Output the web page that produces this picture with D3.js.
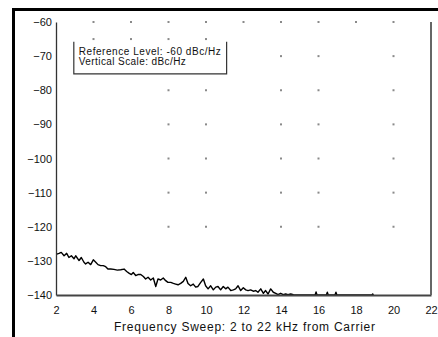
<!DOCTYPE html>
<html>
<head>
<meta charset="utf-8">
<script src="https://cdn.jsdelivr.net/npm/d3@7"></script>
<style>
  body { margin: 0; background: #fff; }
  svg { display: block; font-family: "Liberation Sans", Arial, sans-serif; }
  .axis text { font-size: 11px; fill: #111; }
</style>
</head>
<body>
<svg id="chart"></svg>
<script>
// x ticks (kHz from carrier) and y ticks (dBc/Hz)
const freqTicks = [2, 4, 6, 8, 10, 12, 14, 16, 18, 20, 22];
const levelTicks = [-60, -70, -80, -90, -100, -110, -120, -130, -140];

// phase noise trace: [kHz, dBc/Hz]
const traceFreq = [2.04, 2.16, 2.28, 2.43, 2.57, 2.69, 2.82, 2.96, 3.05, 3.23, 3.35, 3.49, 3.58, 3.71, 3.85,
  3.99, 4.12, 4.24, 4.38, 4.52, 4.65, 4.77, 4.92, 5.09, 5.27, 5.45, 5.63, 5.77, 5.89, 6.02, 6.12, 6.25,
  6.37, 6.52, 6.66, 6.78, 6.91, 7.05, 7.19, 7.32, 7.44, 7.58, 7.72, 7.85, 7.97, 8.12, 8.26, 8.38, 8.51,
  8.65, 8.79, 8.92, 9.04, 9.18, 9.32, 9.45, 9.57, 9.72, 9.86, 9.98, 10.11, 10.25, 10.39, 10.52, 10.64,
  10.78, 10.92, 11.05, 11.17, 11.32, 11.46, 11.58, 11.71, 11.85, 11.99, 12.12, 12.24, 12.38, 12.52,
  12.65, 12.77, 12.92, 13.06, 13.18, 13.31, 13.45, 13.59, 13.72, 13.84, 13.98, 14.12, 14.25, 14.37,
  14.52, 14.66, 14.8, 15.82, 15.87, 15.92, 16.42, 16.47, 16.52, 16.88, 16.93, 16.98, 18.85, 18.89, 18.93];
const traceLevel = [-128.0, -127.8, -127.5, -128.5, -127.8, -129.0, -128.5, -129.4, -128.5, -129.9, -129.0,
  -130.4, -130.9, -130.4, -131.1, -129.7, -130.4, -131.1, -131.4, -131.4, -131.7, -132.4, -132.4, -132.5,
  -132.7, -132.6, -132.4, -133.1, -133.6, -134.0, -133.4, -134.3, -134.0, -134.0, -134.6, -135.3, -134.8,
  -135.6, -135.0, -137.5, -135.3, -135.6, -135.0, -135.8, -136.3, -136.3, -136.6, -136.8, -137.0, -136.6,
  -136.0, -134.8, -136.6, -137.3, -136.8, -137.7, -137.5, -136.3, -135.3, -137.3, -138.2, -137.3, -138.5,
  -137.7, -137.5, -138.5, -137.5, -138.2, -137.7, -138.7, -138.5, -138.2, -137.3, -138.7, -137.9, -138.5,
  -138.7, -138.5, -138.9, -138.7, -139.2, -138.2, -139.5, -138.7, -139.7, -138.2, -139.2, -139.5, -139.9,
  -139.5, -139.9, -139.7, -139.9, -139.7, -139.9, -140, -140, -139.1, -140, -140, -139.2, -140, -140,
  -139.2, -140, -140, -139.7, -140];

// dotted grid, some dots missing as in the original
const dotRows = [
  { level: -60, cols: [4, 6, 8, 10, 12, 14, 16, 18, 20] },
  { level: -65, cols: [4, 6, 8, 10] },
  { level: -70, cols: [14, 16, 20] },
  { level: -80, cols: [8, 10, 14, 16, 20] },
  { level: -90, cols: [8, 10, 14, 16, 20] },
  { level: -100, cols: [8, 10, 14, 16, 20] },
  { level: -110, cols: [8, 10, 14, 16, 20] },
  { level: -120, cols: [8, 10, 14, 16, 20] }
];

const legendLines = ['Reference Level: -60 dBc/Hz', 'Vertical Scale: dBc/Hz'];
const legendWidths = [142, 107];
const xTitle = 'Frequency Sweep: 2 to 22 kHz from Carrier';

const width = 438, height = 337;
const margin = { top: 22, right: 7, bottom: 42, left: 56 };
const innerW = width - margin.left - margin.right;
const innerH = height - margin.top - margin.bottom;

const svg = d3.select('#chart').attr('width', width).attr('height', height);

// scanned page frame
svg.append('rect').attr('x', 12).attr('y', 8).attr('width', width - 12).attr('height', 3).attr('fill', '#000');
svg.append('rect').attr('x', 12).attr('y', 8).attr('width', 3).attr('height', height - 8).attr('fill', '#000');

const chart = svg.append('g').attr('transform', `translate(${margin.left},${margin.top})`);

const x = d3.scaleLinear().domain([2, 22]).range([0, innerW]);
const y = d3.scaleLinear().domain([-140, -60]).range([innerH, 0]);

// grid dots
const dots = dotRows.flatMap(r => r.cols.map(c => ({ f: c, v: r.level })));
chart.selectAll('.dot')
  .data(dots)
  .join('rect')
  .attr('class', 'dot')
  .attr('x', d => x(d.f) - 1)
  .attr('y', d => y(d.v) - 1)
  .attr('width', 2)
  .attr('height', 2)
  .attr('fill', '#8a8a8a');

// trace
const trace = traceFreq.map((f, i) => ({ f: f, v: traceLevel[i] }));
const line = d3.line().x(d => x(d.f)).y(d => y(d.v));
chart.append('path')
  .datum(trace)
  .attr('fill', 'none')
  .attr('stroke', '#000')
  .attr('stroke-width', 1.4)
  .attr('stroke-linejoin', 'round')
  .attr('d', line);

// axes (drawn over the trace so the floor of the trace hides under the axis)
const yAxis = d3.axisLeft(y).tickValues(levelTicks).tickSize(0).tickSizeOuter(0).tickPadding(4);
const xAxis = d3.axisBottom(x).tickValues(freqTicks).tickSize(0).tickSizeOuter(0).tickPadding(11);

const yAxisG = chart.append('g').attr('class', 'axis y-axis').call(yAxis);
yAxisG.select('.domain').attr('stroke', '#333').attr('stroke-width', 1.3);

const xAxisG = chart.append('g').attr('class', 'axis x-axis')
  .attr('transform', `translate(0,${innerH})`)
  .call(xAxis);
xAxisG.select('.domain').attr('stroke', '#444').attr('stroke-width', 1.8);
xAxisG.selectAll('text').attr('font-size', 12);

// right border of plot
chart.append('line')
  .attr('x1', x(22)).attr('x2', x(22))
  .attr('y1', 0).attr('y2', innerH)
  .attr('stroke', '#666')
  .attr('stroke-width', 2);

// legend box (open top)
const lx = x(2.95), ly = y(-65.8), lw = x(11.1) - x(2.95), lh = y(-75.2) - y(-65.8);
const legend = chart.append('g').attr('transform', `translate(${lx},${ly})`);
legend.append('rect').attr('width', lw).attr('height', lh).attr('fill', '#fff');
legend.append('path')
  .attr('d', `M0,0V${lh}H${lw}V0`)
  .attr('fill', 'none')
  .attr('stroke', '#333')
  .attr('stroke-width', 1.2);
legend.selectAll('text')
  .data(legendLines)
  .join('text')
  .attr('x', 5)
  .attr('y', (d, i) => 13 + i * 10.5)
  .attr('font-size', 10)
  .attr('fill', '#111')
  .attr('textLength', (d, i) => legendWidths[i])
  .attr('lengthAdjust', 'spacing')
  .text(d => d);

// x title
chart.append('text')
  .attr('x', innerW / 2 + 1)
  .attr('y', innerH + 36)
  .attr('text-anchor', 'middle')
  .attr('font-size', 12)
  .attr('fill', '#111')
  .attr('textLength', 261)
  .attr('lengthAdjust', 'spacing')
  .text(xTitle);
</script>
</body>
</html>
